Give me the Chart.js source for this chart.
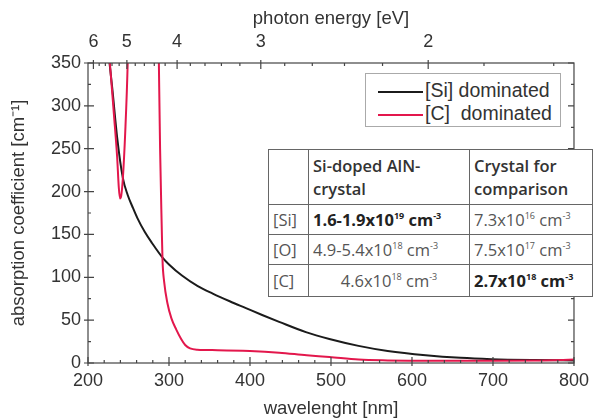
<!DOCTYPE html>
<html>
<head>
<meta charset="utf-8">
<script src="https://cdn.jsdelivr.net/npm/chart.js@4"></script>
<style>
  body { margin: 0; background: #fff; }
  #wrap { position: relative; width: 596px; height: 420px; }
  #legend {
    position: absolute; left: 365px; top: 73px; width: 196px; height: 54px;
    border: 1px solid #aaa; background: #fff; box-sizing: border-box;
    font-family: "Liberation Sans", Arial, sans-serif; font-size: 19.5px; color: #333;
  }
  .row { position: absolute; left: 12px; height: 22px; line-height: 22px; white-space: nowrap; }
  .row span.ln { display: inline-block; width: 45px; height: 2px; vertical-align: middle; margin-right: 2px; }
  #conc {
    position: absolute; left: 268px; top: 149px; border-collapse: collapse; background: #fff;
    table-layout: fixed; width: 324px;
    font-family: "Open Sans", sans-serif; font-size: 16.5px; color: #555;
  }
  #conc td, #conc th { border: 1px solid #666; padding: 0 4px; white-space: nowrap; text-align: left; overflow: hidden; }
  #conc th { font-weight: 600; color: #333; line-height: 23px; height: 54px; }
  #conc td { height: 29px; }
  #conc sup { font-size: 9px; vertical-align: 7px; line-height: 0; }
  #conc b { color: #222; }
</style>
</head>
<body>
<div id="wrap">
  <canvas id="chart" width="596" height="420"></canvas>
  <div id="legend">
    <div class="row" style="top:5px"><span class="ln" style="background:#1b1b1b"></span>[Si] dominated</div>
    <div class="row" style="top:28px"><span class="ln" style="background:#e3174c"></span>[C]&nbsp; dominated</div>
  </div>
  <table id="conc">
    <colgroup><col style="width:40px"><col style="width:161px"><col style="width:123px"></colgroup>
    <tr><th></th><th>Si-doped AlN-<br>crystal</th><th>Crystal for<br>comparison</th></tr>
    <tr><td>[Si]</td><td><b>1.6-1.9x10<sup>19</sup> cm<sup>-3</sup></b></td><td>7.3x10<sup>16</sup> cm<sup>-3</sup></td></tr>
    <tr><td>[O]</td><td>4.9-5.4x10<sup>18</sup> cm<sup>-3</sup></td><td>7.5x10<sup>17</sup> cm<sup>-3</sup></td></tr>
    <tr><td style="height:31px">[C]</td><td style="text-align:center">4.6x10<sup>18</sup> cm<sup>-3</sup></td><td><b>2.7x10<sup>18</sup> cm<sup>-3</sup></b></td></tr>
  </table>
</div>
<script>
// data
const wavelengthSi = [226, 230, 236, 243, 249, 255, 261, 270, 279, 292, 300, 316, 335, 354, 375, 395, 415, 436, 469, 498, 534, 570, 617, 660, 698, 750, 800];
const alphaSi = [355, 320, 263, 216, 196, 182, 169, 153, 140, 123, 115, 102, 90, 81, 72, 64, 56, 48, 36, 28, 20, 14, 9, 6, 4.5, 3.5, 3];

const wavelengthC = [224, 227, 232, 236, 238, 239.5, 241, 243, 246, 249, 250.5, 268, 286.5, 287.5, 289, 291, 292, 294, 298, 303, 309, 315, 320, 326, 335, 360, 400, 436, 470, 498, 534, 570, 620, 700, 760, 800];
const alphaC = [380, 350, 290, 240, 205, 192, 195, 215, 270, 350, 420, null, 420, 350, 250, 160, 120, 95, 70, 52, 39, 28, 21, 17, 15.5, 15, 14, 12, 9, 7, 4, 3, 2.5, 2.5, 3, 4];

const energyTicks = [6, 5, 4, 3, 2];
const energyMinor = [5.8, 5.6, 5.4, 5.2, 4.8, 4.6, 4.4, 4.2, 3.8, 3.6, 3.4, 3.2, 2.8, 2.6, 2.4, 2.2, 1.8, 1.6];

function toPoints(xs, ys) {
  return xs.map((x, i) => ({ x: x, y: ys[i] }));
}

const txt = "#333";
const fontName = '"Liberation Sans", Arial, sans-serif';

// axis frame + inward ticks
const frame = {
  id: "frame",
  afterDraw(chart) {
    const { ctx, chartArea: a, scales } = chart;
    ctx.save();
    ctx.strokeStyle = "#444";
    ctx.lineWidth = 1.2;
    ctx.strokeRect(a.left, a.top, a.right - a.left, a.bottom - a.top);
    ctx.beginPath();
    for (let v = 200; v <= 800; v += 20) {
      let x = scales.x.getPixelForValue(v);
      let len = v % 100 == 0 ? 6 : 3;
      ctx.moveTo(x, a.bottom + (v % 100 == 0 ? 3 : 0));
      ctx.lineTo(x, a.bottom - len);
    }
    for (let v = 0; v <= 350; v += 25) {
      let y = scales.y.getPixelForValue(v);
      let len = v % 50 == 0 ? 6 : 3;
      ctx.moveTo(a.left - (v % 50 == 0 ? 4 : 0), y);
      ctx.lineTo(a.left + len, y);
      ctx.moveTo(a.right, y);
      ctx.lineTo(a.right - len, y);
    }
    for (let e of energyTicks) {
      let x = scales.x2.getPixelForValue(1240 / e);
      ctx.moveTo(x, a.top - 3);
      ctx.lineTo(x, a.top + 6);
    }
    for (let e of energyMinor) {
      let x = scales.x2.getPixelForValue(1240 / e);
      ctx.moveTo(x, a.top);
      ctx.lineTo(x, a.top + 3);
    }
    ctx.stroke();
    ctx.restore();
  },
};

new Chart(document.getElementById("chart"), {
  type: "line",
  data: {
    datasets: [
      {
        label: "[C]  dominated",
        data: toPoints(wavelengthC, alphaC),
        borderColor: "#e3174c",
        borderWidth: 2,
        pointRadius: 0,
        cubicInterpolationMode: "monotone",
        spanGaps: false,
        order: 0,
      },
      {
        label: "[Si] dominated",
        data: toPoints(wavelengthSi, alphaSi),
        borderColor: "#1b1b1b",
        borderWidth: 2,
        pointRadius: 0,
        cubicInterpolationMode: "monotone",
        order: 1,
      },
    ],
  },
  options: {
    responsive: false,
    animation: false,
    devicePixelRatio: 1,
    layout: { padding: { left: 0, right: 20, top: 0, bottom: 0 } },
    plugins: { legend: { display: false }, tooltip: { enabled: false } },
    scales: {
      x: {
        type: "linear",
        position: "bottom",
        min: 200,
        max: 800,
        afterFit: (s) => { s.height = 57; },
        ticks: { stepSize: 100, color: txt, font: { family: fontName, size: 18 }, padding: 7 },
        grid: { display: false, drawTicks: false },
        border: { display: false },
        title: { display: true, text: "wavelenght [nm]", color: txt, font: { family: fontName, size: 18.5 }, padding: { top: 0, bottom: 0 } },
      },
      x2: {
        type: "linear",
        position: "top",
        min: 200,
        max: 800,
        afterFit: (s) => { s.height = 63; },
        afterBuildTicks: (s) => { s.ticks = energyTicks.map((e) => ({ value: 1240 / e })); },
        ticks: {
          autoSkip: false,
          maxRotation: 0,
          color: txt,
          font: { family: fontName, size: 18 },
          padding: 10,
          callback: (v, i) => energyTicks[i],
        },
        grid: { display: false, drawTicks: false },
        border: { display: false },
        title: { display: true, text: "photon energy [eV]", color: txt, font: { family: fontName, size: 18.5 }, padding: { top: 8, bottom: 0 } },
      },
      y: {
        min: 0,
        max: 350,
        afterFit: (s) => { s.width = 88; },
        ticks: { stepSize: 50, color: txt, font: { family: fontName, size: 18 }, padding: 7 },
        grid: { display: false, drawTicks: false },
        border: { display: false },
        title: { display: true, text: "absorption coefficient [cm\u207B\u00B9]", color: txt, font: { family: fontName, size: 18.5 }, padding: { top: 8, bottom: 0 } },
      },
    },
  },
  plugins: [frame],
});
</script>
</body>
</html>
